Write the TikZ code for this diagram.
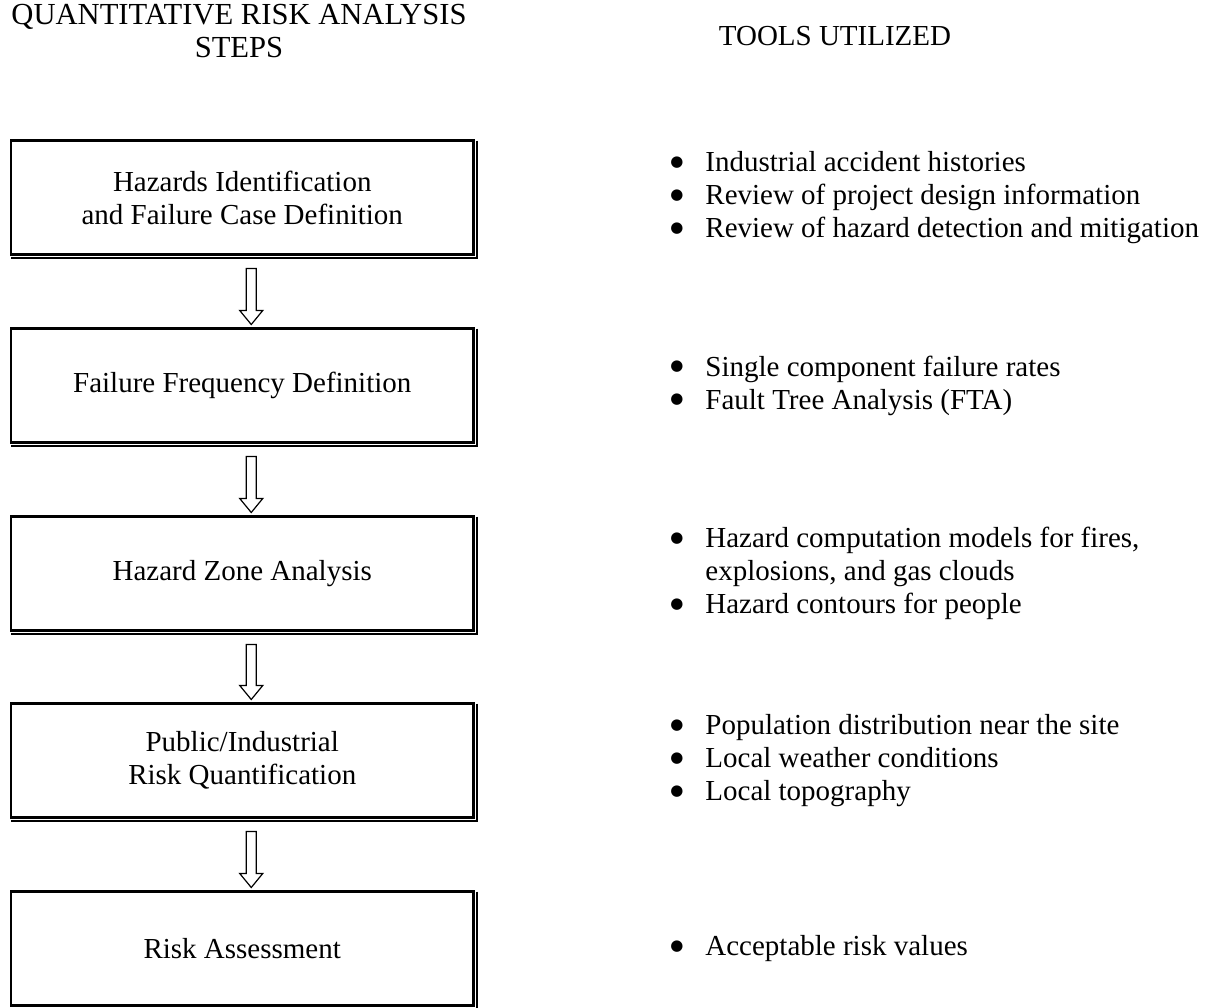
\documentclass[tikz,border=0pt]{standalone}
\usepackage{fontspec}
\setmainfont{Liberation Serif}
\newfontfamily\dotfont{DejaVu Sans}
\usetikzlibrary{calc}

\newcommand{\tooldot}{\makebox[17.5pt][l]{\raisebox{2.6pt}{\dotfont\fontsize{7.5}{7.5}\selectfont ●}}}
\newcommand{\toolgap}{\hspace*{17.5pt}}

\begin{document}
\begin{tikzpicture}[x = 0.5pt, y = 0.5pt,
	every node/.style = {font = \fontsize{14.5}{16.5}\selectfont},
	stepbox/.style = {draw = black, line width = 1.15pt, outer sep = 0pt,
		minimum width = 231.25pt, minimum height = 57pt, align = center},
	toollist/.style = {anchor = west, inner sep = 0pt, align = left},
	shadowline/.style = {line width = 1.35pt},
	hollowarrow/.style = {line width = 0.6pt, line join = miter}]

	\useasboundingbox (0, 0) rectangle (1210, -1007);

		\node (HEADL) at (239, -31) [align = center, font = \fontsize{15.3}{16.5}\selectfont] {QUANTITATIVE RISK ANALYSIS\\STEPS};
		\node (HEADR) at (835, -36) {TOOLS UTILIZED};

		\node (HI) at (242.25, -197.5) [stepbox] {Hazards Identification\\and Failure Case Definition};
		\node (FF) at (242.25, -385.5) [stepbox] {Failure Frequency Definition};
		\node (HZ) at (242.25, -573.5) [stepbox] {Hazard Zone Analysis};
		\node (RQ) at (242.25, -760.5) [stepbox] {Public/Industrial\\Risk Quantification};
		\node (RA) at (242.25, -948.5) [stepbox] {Risk Assessment};

		\node (THI) at (670, -197.5) [toollist] {\tooldot Industrial accident histories\\
			\tooldot Review of project design information\\
			\tooldot Review of hazard detection and mitigation};
		\node (TFF) at (670, -385.5) [toollist] {\tooldot Single component failure rates\\
			\tooldot Fault Tree Analysis (FTA)};
		\node (THZ) at (670, -573.5) [toollist] {\tooldot Hazard computation models for fires,\\
			\toolgap explosions, and gas clouds\\
			\tooldot Hazard contours for people};
		\node (TRQ) at (670, -760.5) [toollist] {\tooldot Population distribution near the site\\
			\tooldot Local weather conditions\\
			\tooldot Local topography};
		\node (TRA) at (670, -948.5) [toollist] {\tooldot Acceptable risk values};

	    \foreach \step in {HI, FF, HZ, RQ, RA}
	    	\draw [shadowline] ([xshift = 1.7pt]\step.north east) |- ([yshift = -1.7pt]\step.south west);

	    \foreach \from/\to in {HI/FF, FF/HZ, HZ/RQ, RQ/RA}
	    	\draw [hollowarrow] ($(\from.south) + (4, -14)$) -- ($(\to.north) + (4, 18)$)
	    		-- ($(\to.north) + (-2.5, 18)$) -- ($(\to.north) + (9, 4)$)
	    		-- ($(\to.north) + (20.5, 18)$) -- ($(\to.north) + (14, 18)$)
	    		-- ($(\from.south) + (14, -14)$) -- cycle;

	\end{tikzpicture}
\end{document}
